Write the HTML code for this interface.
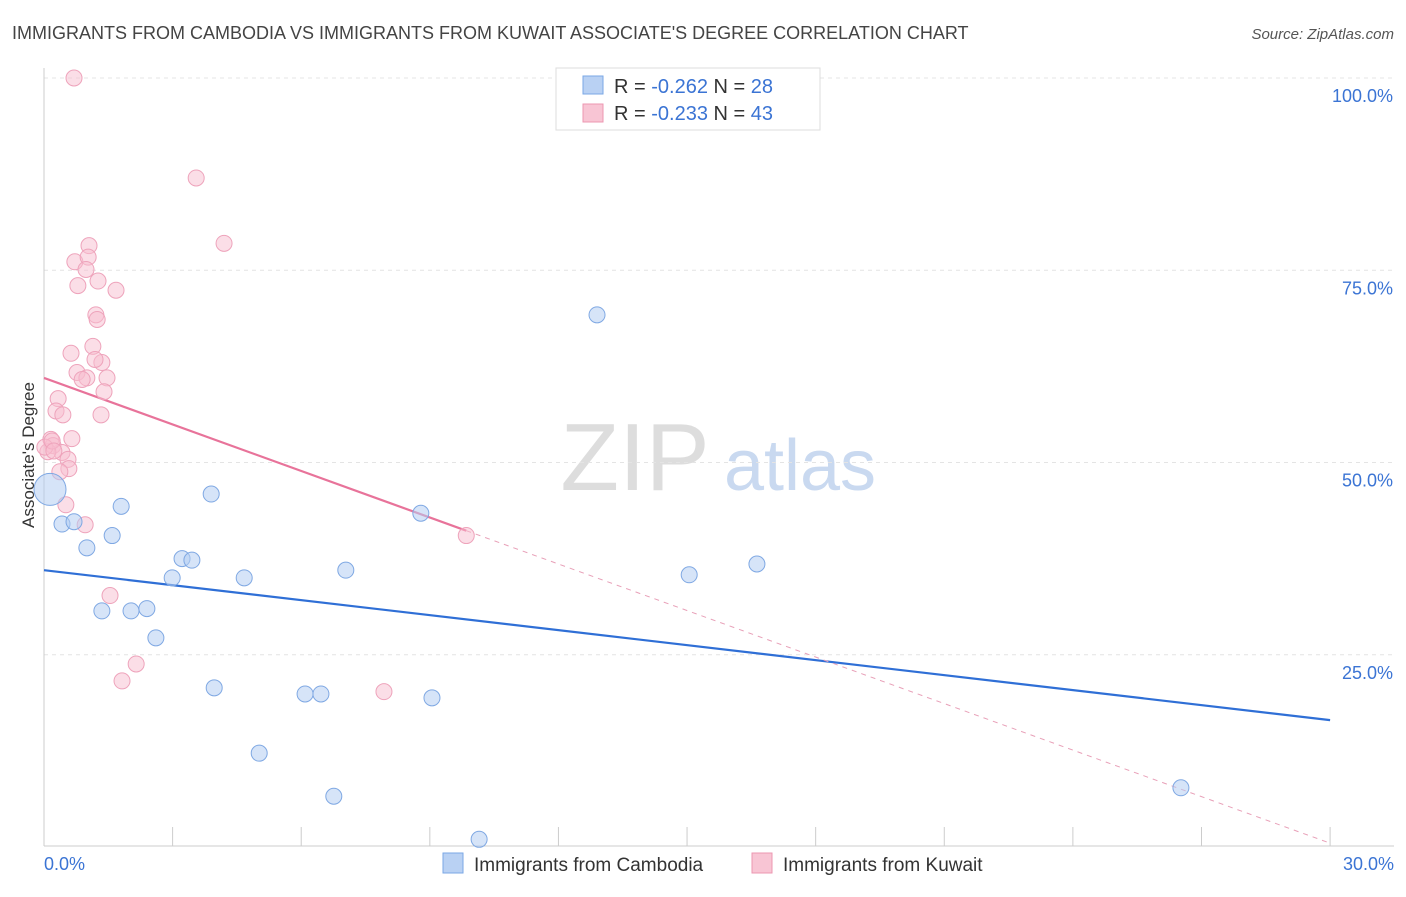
<!DOCTYPE html>
<html><head><meta charset="utf-8"><style>
body{margin:0;background:#fff;font-family:"Liberation Sans",sans-serif;}
svg text{font-family:"Liberation Sans",sans-serif;}
</style></head><body>
<svg id="chart" width="1406" height="892" xmlns="http://www.w3.org/2000/svg">
<text x="12" y="39" font-size="18" fill="#444">IMMIGRANTS FROM CAMBODIA VS IMMIGRANTS FROM KUWAIT ASSOCIATE'S DEGREE CORRELATION CHART</text>
<text x="1394" y="39" font-size="15" fill="#555" font-style="italic" text-anchor="end">Source: ZipAtlas.com</text>
<g>
<text x="635" y="490" font-size="96" fill="#ddd" font-family="Liberation Serif" text-anchor="middle">ZIP</text>
<text x="800" y="490" font-size="72" fill="#c9d9f0" text-anchor="middle">atlas</text>
</g>
<g id="grid"></g>
<g id="axes"></g>
<g id="lines"></g>
<g id="points"></g>
<text transform="translate(34,455) rotate(-90)" font-size="17" fill="#333" text-anchor="middle">Associate's Degree</text>
<g>
<rect x="556" y="68" width="264" height="62" fill="#fff" stroke="#ddd"/>
<rect x="583" y="76" width="20" height="18" fill="#b9d1f3" stroke="#7aa7e6"/>
<rect x="583" y="104" width="20" height="18" fill="#f8c5d4" stroke="#ec97b1"/>
<text x="614" y="93" font-size="20" fill="#333">R = <tspan fill="#3b74d4">-0.262</tspan>   N = <tspan fill="#3b74d4">28</tspan></text>
<text x="614" y="120" font-size="20" fill="#333">R = <tspan fill="#3b74d4">-0.233</tspan>   N = <tspan fill="#3b74d4">43</tspan></text>
</g>
<g>
<rect x="443" y="853" width="20" height="20" fill="#b9d1f3" stroke="#7aa7e6"/>
<text x="474" y="871" font-size="19" fill="#333">Immigrants from Cambodia</text>
<rect x="752" y="853" width="20" height="20" fill="#f8c5d4" stroke="#ec97b1"/>
<text x="783" y="871" font-size="19" fill="#333">Immigrants from Kuwait</text>
</g>
</svg>
<script>
const xTicks=[0,3,6,9,12,15,18,21,24,27,30];
const yTicks=[25,50,75,100];
const yTickLabels=["25.0%","50.0%","75.0%","100.0%"];
const cambodiaX=[0.14,0.42,0.70,1.0,1.35,1.59,1.80,2.03,2.40,2.61,2.99,3.22,3.45,3.9,3.97,4.67,5.02,6.76,6.09,6.46,7.04,8.79,9.05,10.15,12.90,15.05,16.63,26.52];
const cambodiaY=[46.5,42,42.3,38.9,30.7,40.5,44.3,30.7,31,27.2,35,37.5,37.3,45.9,20.7,35,12.2,6.6,19.9,19.9,36,43.4,19.4,1,69.2,35.4,36.8,7.7];
const kuwaitX=[0.7,3.55,4.2,1.05,0.72,1.03,0.98,0.79,1.26,1.68,1.21,1.24,1.14,0.63,1.35,1.19,0.77,1.0,1.47,0.89,1.4,0.33,0.28,0.44,1.33,0.65,0.16,0.21,0.42,0.09,0.56,0.58,0.37,0.51,0.96,1.54,2.15,1.82,7.93,9.85,0.02,0.19,0.23];
const kuwaitY=[100,87,78.5,78.2,76.1,76.7,75.1,73,73.6,72.4,69.2,68.6,65.1,64.2,63,63.4,61.7,61,61,60.8,59.2,58.3,56.7,56.2,56.2,53.1,53,52.2,51.3,51.4,50.4,49.2,48.8,44.5,41.9,32.7,23.8,21.6,20.2,40.5,52,52.8,51.5];
const blueLine=[36,16.5];   // y at x=0 and x=30
const pinkLine=[61,0.5];
const pinkSolidEnd=9.85;
const X=v=>44+v*42.87, Y=v=>847-v*7.69;
const NS="http://www.w3.org/2000/svg";
function mk(t,a,p){const e=document.createElementNS(NS,t);for(const k in a)e.setAttribute(k,a[k]);p.appendChild(e);return e;}
const grid=document.getElementById('grid'),axes=document.getElementById('axes'),lines=document.getElementById('lines'),pts=document.getElementById('points');
yTicks.forEach((t,i)=>{
 const l=mk('line',{x1:44,x2:1394,y1:Y(t),y2:Y(t),stroke:'#e4e4e4','stroke-dasharray':'4,4'},grid);
 
 
 const tx=mk('text',{x:1393,y:Y(t)+24,'font-size':18,fill:'#3b74d4','text-anchor':'end'},grid);
 tx.textContent=yTickLabels[i];
 
 
});
const xa=mk('line',{x1:44,x2:1394,y1:846,y2:846,stroke:'#ccc'},axes);


const ya=mk('line',{x1:44,x2:44,y1:68,y2:846,stroke:'#ccc'},axes);


xTicks.forEach(t=>{const l=mk('line',{x1:X(t),x2:X(t),y1:827,y2:846,stroke:'#ccc'},axes);
 
 });
[[0,'0.0%','start',44],[30,'30.0%','end',1394]].forEach(a=>{const t=mk('text',{x:a[3],y:870,'font-size':18,fill:'#3b74d4','text-anchor':a[2]},axes);t.textContent=a[1];
 
 });
const pk=x=>pinkLine[0]+(pinkLine[1]-pinkLine[0])*x/30;
const bl=mk('line',{x1:X(0),y1:Y(blueLine[0]),x2:X(30),y2:Y(blueLine[1]),stroke:'#2f6fd6','stroke-width':2.2},lines);


const pl=mk('line',{x1:X(0),y1:Y(pk(0)),x2:X(pinkSolidEnd),y2:Y(pk(pinkSolidEnd)),stroke:'#e8739a','stroke-width':2.2},lines);


const pd=mk('line',{x1:X(pinkSolidEnd),y1:Y(pk(pinkSolidEnd)),x2:X(30),y2:Y(pk(30)),stroke:'#e8a0b8','stroke-width':1,'stroke-dasharray':'5,5'},lines);


kuwaitX.forEach((x,i)=>{const c=mk('circle',{cx:X(x),cy:Y(kuwaitY[i]),r:8,fill:'rgba(248,190,208,0.5)',stroke:'#eea3bb','stroke-width':1},pts);
 
 });
cambodiaX.forEach((x,i)=>{const c=mk('circle',{cx:X(x),cy:Y(cambodiaY[i]),r:i==0?16:8,fill:'rgba(180,205,242,0.55)',stroke:'#7fa8e3','stroke-width':1},pts);
 
 });
</script>
</body></html>
